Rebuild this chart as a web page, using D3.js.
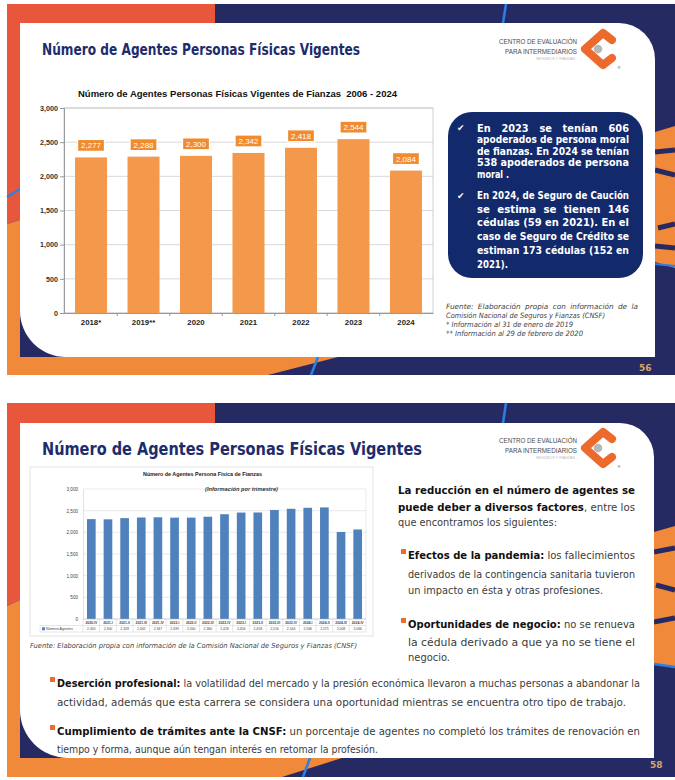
<!DOCTYPE html>
<html><head><meta charset="utf-8">
<script src="https://cdn.jsdelivr.net/npm/d3@7"></script>
<style>body{margin:0;background:#fff}svg{display:block}</style>
</head><body><svg id="c" width="675" height="780"></svg>
<script>
// ---------- DATA ----------
const categories1 = ["2018*", "2019**", "2020", "2021", "2022", "2023", "2024"];
const values1 = [2277, 2288, 2300, 2342, 2418, 2544, 2084];
const yTicks1 = [0, 500, 1000, 1500, 2000, 2500, 3000];

const categories2 = ["2020-IV","2021-I","2021-II","2021-III","2021-IV","2022-I","2022-II","2022-III","2022-IV","2023-I","2023-II","2023-III","2023-IV","2024-I","2024-II","2024-III","2024-IV"];
const values2 = [2305, 2300, 2328, 2342, 2347, 2339, 2340, 2360, 2418, 2456, 2458, 2516, 2544, 2566, 2575, 2008, 2066];
const yTicks2 = [0, 500, 1000, 1500, 2000, 2500, 3000];
const seriesName2 = "Número Agentes";

// ---------- STYLE ----------
const C = {
  navy: "#262a63", red: "#e8573c", orange: "#f0893a", blue: "#2a80e6",
  title: "#1d2c6c", box: "#12296b", bar1: "#f4994b", lab1: "#f08b30",
  bar2: "#4f81bd", grid: "#cfcfcf", text: "#3b3b3b"
};
const fmt = d3.format(",");
const svg = d3.select("#c");

function panelPath(x0, y0, x1, y1, rTR, rBL) {
  const p = d3.path();
  p.moveTo(x0, y0); p.lineTo(x1 - rTR, y0);
  p.arcTo(x1, y0, x1, y0 + rTR, rTR);
  p.lineTo(x1, y1); p.lineTo(x0 + rBL, y1);
  p.arcTo(x0, y1, x0, y1 - rBL, rBL);
  p.closePath();
  return p.toString();
}

function mkText(g, x, y, str, bold, o) {
  const t = g.append("text").attr("x", x).attr("y", y)
    .attr("font-family", o.family || "DejaVu Sans").attr("font-size", o.size)
    .attr("fill", (bold && o.boldColor) || o.color || C.text)
    .attr("xml:space", "preserve").style("white-space", "pre").text(str);
  if (o.italic) t.attr("font-style", "italic");
  if (o.weight || bold) t.attr("font-weight", "bold");
  return t;
}

function addLine(g, x, y, segs, o) {
  const els = segs.map(s => mkText(g, x, y, s[0], !!s[1], o));
  const ws = els.map(t => t.node().getComputedTextLength());
  const w = d3.sum(ws);
  if (o.x2 == null) return;
  const target = o.x2 - x;
  if (o.justify && segs.length === 1) {
    const n = (segs[0][0].match(/ /g) || []).length;
    if (w < target && n > 0) els[0].attr("word-spacing", (target - w) / n);
    else els[0].attr("textLength", target).attr("lengthAdjust", "spacingAndGlyphs");
    return;
  }
  const k = target / w;
  const mode = (o.justify && k > 1) ? "spacing" : "spacingAndGlyphs";
  let cx = x;
  els.forEach((t, i) => {
    t.attr("x", cx).attr("textLength", ws[i] * k).attr("lengthAdjust", mode);
    cx += ws[i] * k;
  });
}

function drawLogo(cx, cy) {
  const g = svg.append("g");
  addLine(g, 499, cy - 5, [["CENTRO DE EVALUACIÓN"]], {family: "Liberation Sans", size: 6.6, color: "#4a4a4a", x2: 577});
  addLine(g, 505, cy + 5, [["PARA INTERMEDIARIOS"]], {family: "Liberation Sans", size: 6.6, color: "#4a4a4a", x2: 577});
  addLine(g, 536, cy + 10.5, [["SEGUROS Y FIANZAS"]], {family: "Liberation Sans", size: 3.4, color: "#b8b8b8", x2: 575});
  g.append("path")
    .attr("d", `M${cx+14},${cy-9} L${cx+5},${cy-16} L${cx-13},${cy} L${cx+5},${cy+16} L${cx+14},${cy+9}`)
    .attr("fill", "none").attr("stroke", "#ec6a2c").attr("stroke-width", 8).attr("stroke-linejoin", "round").attr("stroke-linecap", "round");
  g.append("circle").attr("cx", cx).attr("cy", cy).attr("r", 4.3).attr("fill", "#b7b7b7");
  g.append("text").attr("x", cx + 19).attr("y", cy + 20).attr("font-size", 4).attr("fill", "#777").attr("font-family", "DejaVu Sans").text("®");
}

// =============== SLIDE 1 ===============
svg.append("rect").attr("x", 7).attr("y", 4).attr("width", 668).attr("height", 371).attr("fill", C.navy);
svg.append("polygon").attr("points", "7,4 215,4 215,23 20,23 20,220 7,224").attr("fill", C.red);
svg.append("polygon").attr("points", "7,224 20,220 20,357 338,357 268,375 7,375").attr("fill", C.orange);
svg.append("polygon").attr("points", "655,132 675,126 675,268 655,262").attr("fill", C.orange);
svg.append("path").attr("d", "M655,152 L675,150 M655,170 L675,175 M658,228 L675,224 M655,246 L675,248").attr("stroke", C.navy).attr("stroke-width", 5);
svg.append("path").attr("d", "M655,264 L675,266").attr("stroke", C.blue).attr("stroke-width", 2);
svg.append("path").attr("d", "M7,197 L20,189 M311,375 L318,357 M506,4 L503,23").attr("stroke", C.blue).attr("stroke-width", 2.5).attr("fill", "none");
svg.append("path").attr("d", panelPath(20, 23, 655, 357, 36, 46)).attr("fill", "#fff");

addLine(svg, 42, 55, [["Número de Agentes Personas Físicas Vigentes"]], {size: 16, weight: "bold", color: C.title, x2: 360});
drawLogo(598, 49);

// chart 1
const g1 = svg.append("g");
const x1 = d3.scaleBand().domain(categories1).range([64, 433]).paddingInner(0.39).paddingOuter(0.21);
const y1 = d3.scaleLinear().domain([0, 3000]).range([313, 108]);
addLine(g1, 78, 97, [["Número de Agentes Personas Físicas Vigentes de Fianzas  2006 - 2024"]], {family: "Liberation Sans", size: 9, weight: "bold", color: "#111", x2: 397});
g1.selectAll("line.grid").data(yTicks1).join("line").attr("class", "grid")
  .attr("x1", 64).attr("x2", 433).attr("y1", d => y1(d)).attr("y2", d => y1(d)).attr("stroke", C.grid).attr("stroke-width", 0.8);
g1.append("rect").attr("x", 64).attr("y", 108).attr("width", 369).attr("height", 205).attr("fill", "none").attr("stroke", "#c4c4c4").attr("stroke-width", 0.8);
const ax1 = g1.append("g").attr("transform", "translate(64,0)")
  .call(d3.axisLeft(y1).tickValues(yTicks1).tickFormat(fmt).tickSize(4).tickPadding(2));
ax1.select(".domain").attr("stroke", "#999");
ax1.selectAll(".tick line").attr("stroke", "#999");
ax1.selectAll("text").attr("font-family", "Liberation Sans").attr("font-size", 7.2).attr("font-weight", "bold").attr("fill", "#333");
const ax1b = g1.append("g").attr("transform", "translate(0,313)")
  .call(d3.axisBottom(x1).tickSize(0).tickPadding(6));
ax1b.select(".domain").attr("stroke", "#999");
ax1b.selectAll("text").attr("font-family", "Liberation Sans").attr("font-size", 7.8).attr("font-weight", "bold").attr("fill", "#222");
const gap1 = x1.step() - x1.bandwidth();
g1.selectAll("line.xt").data(categories1.slice(1)).join("line").attr("class", "xt")
  .attr("x1", d => x1(d) - gap1 / 2).attr("x2", d => x1(d) - gap1 / 2).attr("y1", 313).attr("y2", 316).attr("stroke", "#999");
g1.selectAll("rect.bar").data(values1).join("rect").attr("class", "bar")
  .attr("x", (d, i) => x1(categories1[i])).attr("width", x1.bandwidth())
  .attr("y", d => y1(d)).attr("height", d => y1(0) - y1(d)).attr("fill", C.bar1);
const lab1 = g1.selectAll("g.lab").data(values1).join("g").attr("class", "lab")
  .attr("transform", (d, i) => `translate(${x1(categories1[i]) + x1.bandwidth() / 2},${y1(d) - 12})`);
lab1.append("rect").attr("x", -13.5).attr("y", -6).attr("width", 27).attr("height", 12).attr("fill", C.lab1).attr("stroke", "#fff").attr("stroke-width", 1.3);
lab1.append("text").attr("text-anchor", "middle").attr("y", 3).attr("font-family", "Liberation Sans").attr("font-size", 8).attr("fill", "#fff").text(d => fmt(d));

// info box
svg.append("rect").attr("x", 448).attr("y", 112).attr("width", 195).attr("height", 166).attr("rx", 24).attr("fill", C.box);
const ib = svg.append("g");
ib.append("text").attr("x", 457).attr("y", 131).attr("font-size", 9).attr("fill", "#fff").attr("font-family", "DejaVu Sans").text("✔");
ib.append("text").attr("x", 457).attr("y", 199).attr("font-size", 9).attr("fill", "#fff").attr("font-family", "DejaVu Sans").text("✔");
const b1 = [["En 2023 se tenían 606", true], ["apoderados de persona moral", true], ["de fianzas. En 2024 se tenían", true], ["538 apoderados de persona", true], ["moral .", false]];
b1.forEach((l, i) => addLine(ib, 477, 131.5 + i * 11.6, [[l[0]]], {size: 9.8, weight: "bold", color: "#fff", x2: l[1] ? 629 : 509, justify: l[1]}));
const b2 = [["En 2024, de Seguro de Caución", true], ["se estima se tienen 146", true], ["cédulas (59 en 2021). En el", true], ["caso de Seguro de Crédito se", true], ["estiman 173 cédulas (152 en", true], ["2021).", false]];
b2.forEach((l, i) => addLine(ib, 477, 199 + i * 13.7, [[l[0]]], {size: 10.2, weight: "bold", color: "#fff", x2: l[1] ? 629 : 508, justify: l[1]}));

// source notes
const src1 = [["Fuente: Elaboración propia con información de la", 638, true], ["Comisión Nacional de Seguros y Fianzas (CNSF)", 605, false], ["* Información al 31 de enero de 2019", 573, false], ["** Información al 29 de febrero de 2020", 583, false]];
src1.forEach((l, i) => addLine(svg, 446, 308.5 + i * 9.3, [[l[0]]], {size: 7.3, italic: true, color: "#444", x2: l[1], justify: l[2]}));
addLine(svg, 639, 371, [["56"]], {size: 9, weight: "bold", color: "#d9a66a"});

// =============== SLIDE 2 ===============
svg.append("rect").attr("x", 7).attr("y", 403).attr("width", 668).attr("height", 374).attr("fill", C.navy);
svg.append("polygon").attr("points", "7,403 215,403 215,423 20,423 20,600 7,606").attr("fill", C.red);
svg.append("polygon").attr("points", "7,606 20,600 20,758 342,758 282,777 7,777").attr("fill", C.orange);
svg.append("polygon").attr("points", "654,532 675,526 675,668 654,664").attr("fill", C.orange);
svg.append("path").attr("d", "M654,552 L675,548 M656,585 L675,590 M654,622 L675,618").attr("stroke", C.navy).attr("stroke-width", 5);
svg.append("path").attr("d", "M654,664 L675,667 M303,777 L310,758 M506,403 L503,423").attr("stroke", C.blue).attr("stroke-width", 2.5).attr("fill", "none");
svg.append("path").attr("d", panelPath(20, 423, 654, 758, 34, 48)).attr("fill", "#fff");

addLine(svg, 42, 455, [["Número de Agentes Personas Físicas Vigentes"]], {size: 18, weight: "bold", color: C.title, x2: 422});
drawLogo(598, 448);

// chart 2
const g2 = svg.append("g");
g2.append("rect").attr("x", 30).attr("y", 467).attr("width", 343).attr("height", 169).attr("fill", "#fff").attr("stroke", "#d6d6d6").attr("stroke-width", 0.7);
const x2 = d3.scaleBand().domain(categories2).range([83, 366]).paddingInner(0.48).paddingOuter(0.24);
const y2 = d3.scaleLinear().domain([0, 3000]).range([619, 489]);
addLine(g2, 143, 476, [["Número de Agentes Persona Física de Fianzas"]], {family: "Liberation Sans", size: 5, weight: "bold", color: "#222", x2: 262});
g2.selectAll("line.grid").data(yTicks2).join("line").attr("class", "grid")
  .attr("x1", 83).attr("x2", 366).attr("y1", d => y2(d)).attr("y2", d => y2(d)).attr("stroke", "#dcdcdc").attr("stroke-width", 0.6);
g2.append("line").attr("x1", 366).attr("x2", 366).attr("y1", 489).attr("y2", 619).attr("stroke", "#dcdcdc").attr("stroke-width", 0.6);
addLine(g2, 205, 490.5, [["(Información por trimestre)"]], {family: "Liberation Sans", size: 5.2, weight: "bold", italic: true, color: "#333", x2: 278});
const ax2 = g2.append("g").attr("transform", "translate(83,0)")
  .call(d3.axisLeft(y2).tickValues(yTicks2).tickFormat(fmt).tickSize(0).tickPadding(5));
ax2.select(".domain").attr("stroke", "#cfcfcf").attr("stroke-width", 0.6);
ax2.selectAll("text").attr("font-family", "Liberation Sans").attr("font-size", 4.6).attr("fill", "#444");
g2.selectAll("rect.bar").data(values2).join("rect").attr("class", "bar")
  .attr("x", (d, i) => x2(categories2[i])).attr("width", x2.bandwidth())
  .attr("y", d => y2(d)).attr("height", d => y2(0) - y2(d)).attr("fill", C.bar2);
// data table
const gap2 = x2.step() - x2.bandwidth();
const bounds2 = categories2.map(c => x2(c) - gap2 / 2).concat([366]);
const tg = g2.append("g").attr("stroke", "#cfcfcf").attr("stroke-width", 0.5);
tg.selectAll("line.v").data(bounds2).join("line").attr("class", "v").attr("x1", d => d).attr("x2", d => d).attr("y1", 619).attr("y2", 632);
tg.append("line").attr("x1", 83).attr("x2", 366).attr("y1", 619).attr("y2", 619).attr("stroke", "#bbb");
tg.append("line").attr("x1", 40).attr("x2", 366).attr("y1", 625.5).attr("y2", 625.5);
tg.append("line").attr("x1", 40).attr("x2", 366).attr("y1", 632).attr("y2", 632);
tg.append("line").attr("x1", 40).attr("x2", 40).attr("y1", 625.5).attr("y2", 632);
g2.selectAll("text.cat").data(categories2).join("text").attr("class", "cat")
  .attr("x", d => x2(d) + x2.bandwidth() / 2).attr("y", 623.8).attr("text-anchor", "middle")
  .attr("font-family", "Liberation Sans").attr("font-size", 3.4).attr("font-weight", "bold").attr("fill", "#444").text(d => d);
g2.selectAll("text.val").data(values2).join("text").attr("class", "val")
  .attr("x", (d, i) => x2(categories2[i]) + x2.bandwidth() / 2).attr("y", 630.2).attr("text-anchor", "middle")
  .attr("font-family", "Liberation Sans").attr("font-size", 3.4).attr("fill", "#444").text(d => fmt(d));
g2.append("rect").attr("x", 42).attr("y", 627.3).attr("width", 3).attr("height", 3).attr("fill", C.bar2);
g2.append("text").attr("x", 46).attr("y", 630.2).attr("font-family", "Liberation Sans").attr("font-size", 3.6).attr("fill", "#444").text(seriesName2);

addLine(svg, 30, 648, [["Fuente: Elaboración propia con información de la Comisión Nacional de Seguros y Fianzas (CNSF)"]], {size: 7, italic: true, color: "#444", x2: 357});

// right text block
const tf = {size: 11.2, color: "#3b3b3b", boldColor: "#111", family: "DejaVu Sans"};
const rt = svg.append("g");
addLine(rt, 398, 494, [["La reducción en el número de agentes se", true]], {...tf, x2: 635, justify: true});
addLine(rt, 398, 511, [["puede deber a diversos factores", true], [", entre los", false]], {...tf, x2: 635, justify: true});
addLine(rt, 398, 526, [["que encontramos los siguientes:", false]], {...tf, x2: 557});
rt.append("rect").attr("x", 401).attr("y", 549).attr("width", 5).attr("height", 5).attr("fill", "#ee6b2e");
addLine(rt, 408, 559, [["Efectos de la pandemia:", true], [" los fallecimientos", false]], {...tf, x2: 635, justify: true});
addLine(rt, 408, 578, [["derivados de la contingencia sanitaria tuvieron", false]], {...tf, x2: 635, justify: true});
addLine(rt, 408, 594, [["un impacto en ésta y otras profesiones.", false]], {...tf, x2: 603});
rt.append("rect").attr("x", 401).attr("y", 618).attr("width", 5).attr("height", 5).attr("fill", "#ee6b2e");
addLine(rt, 408, 628, [["Oportunidades de negocio:", true], [" no se renueva", false]], {...tf, x2: 635, justify: true});
addLine(rt, 408, 646, [["la cédula derivado a que ya no se tiene el", false]], {...tf, x2: 635, justify: true});
addLine(rt, 408, 661, [["negocio.", false]], {...tf, x2: 450});

rt.append("rect").attr("x", 50).attr("y", 677).attr("width", 5).attr("height", 5).attr("fill", "#ee6b2e");
addLine(rt, 57, 687, [["Deserción profesional:", true], [" la volatilidad del mercado y la presión económica llevaron a muchas personas a abandonar la", false]], {...tf, x2: 640, justify: true});
addLine(rt, 57, 706, [["actividad, además que esta carrera se considera una oportunidad mientras se encuentra otro tipo de trabajo.", false]], {...tf, x2: 626});
rt.append("rect").attr("x", 50).attr("y", 725).attr("width", 5).attr("height", 5).attr("fill", "#ee6b2e");
addLine(rt, 57, 735, [["Cumplimiento de trámites ante la CNSF:", true], [" un porcentaje de agentes no completó los trámites de renovación en", false]], {...tf, x2: 640, justify: true});
addLine(rt, 57, 753, [["tiempo y forma, aunque aún tengan interés en retomar la profesión.", false]], {...tf, x2: 378});

addLine(svg, 650, 768, [["58"]], {size: 9, weight: "bold", color: "#d9a66a"});
</script></body></html>
